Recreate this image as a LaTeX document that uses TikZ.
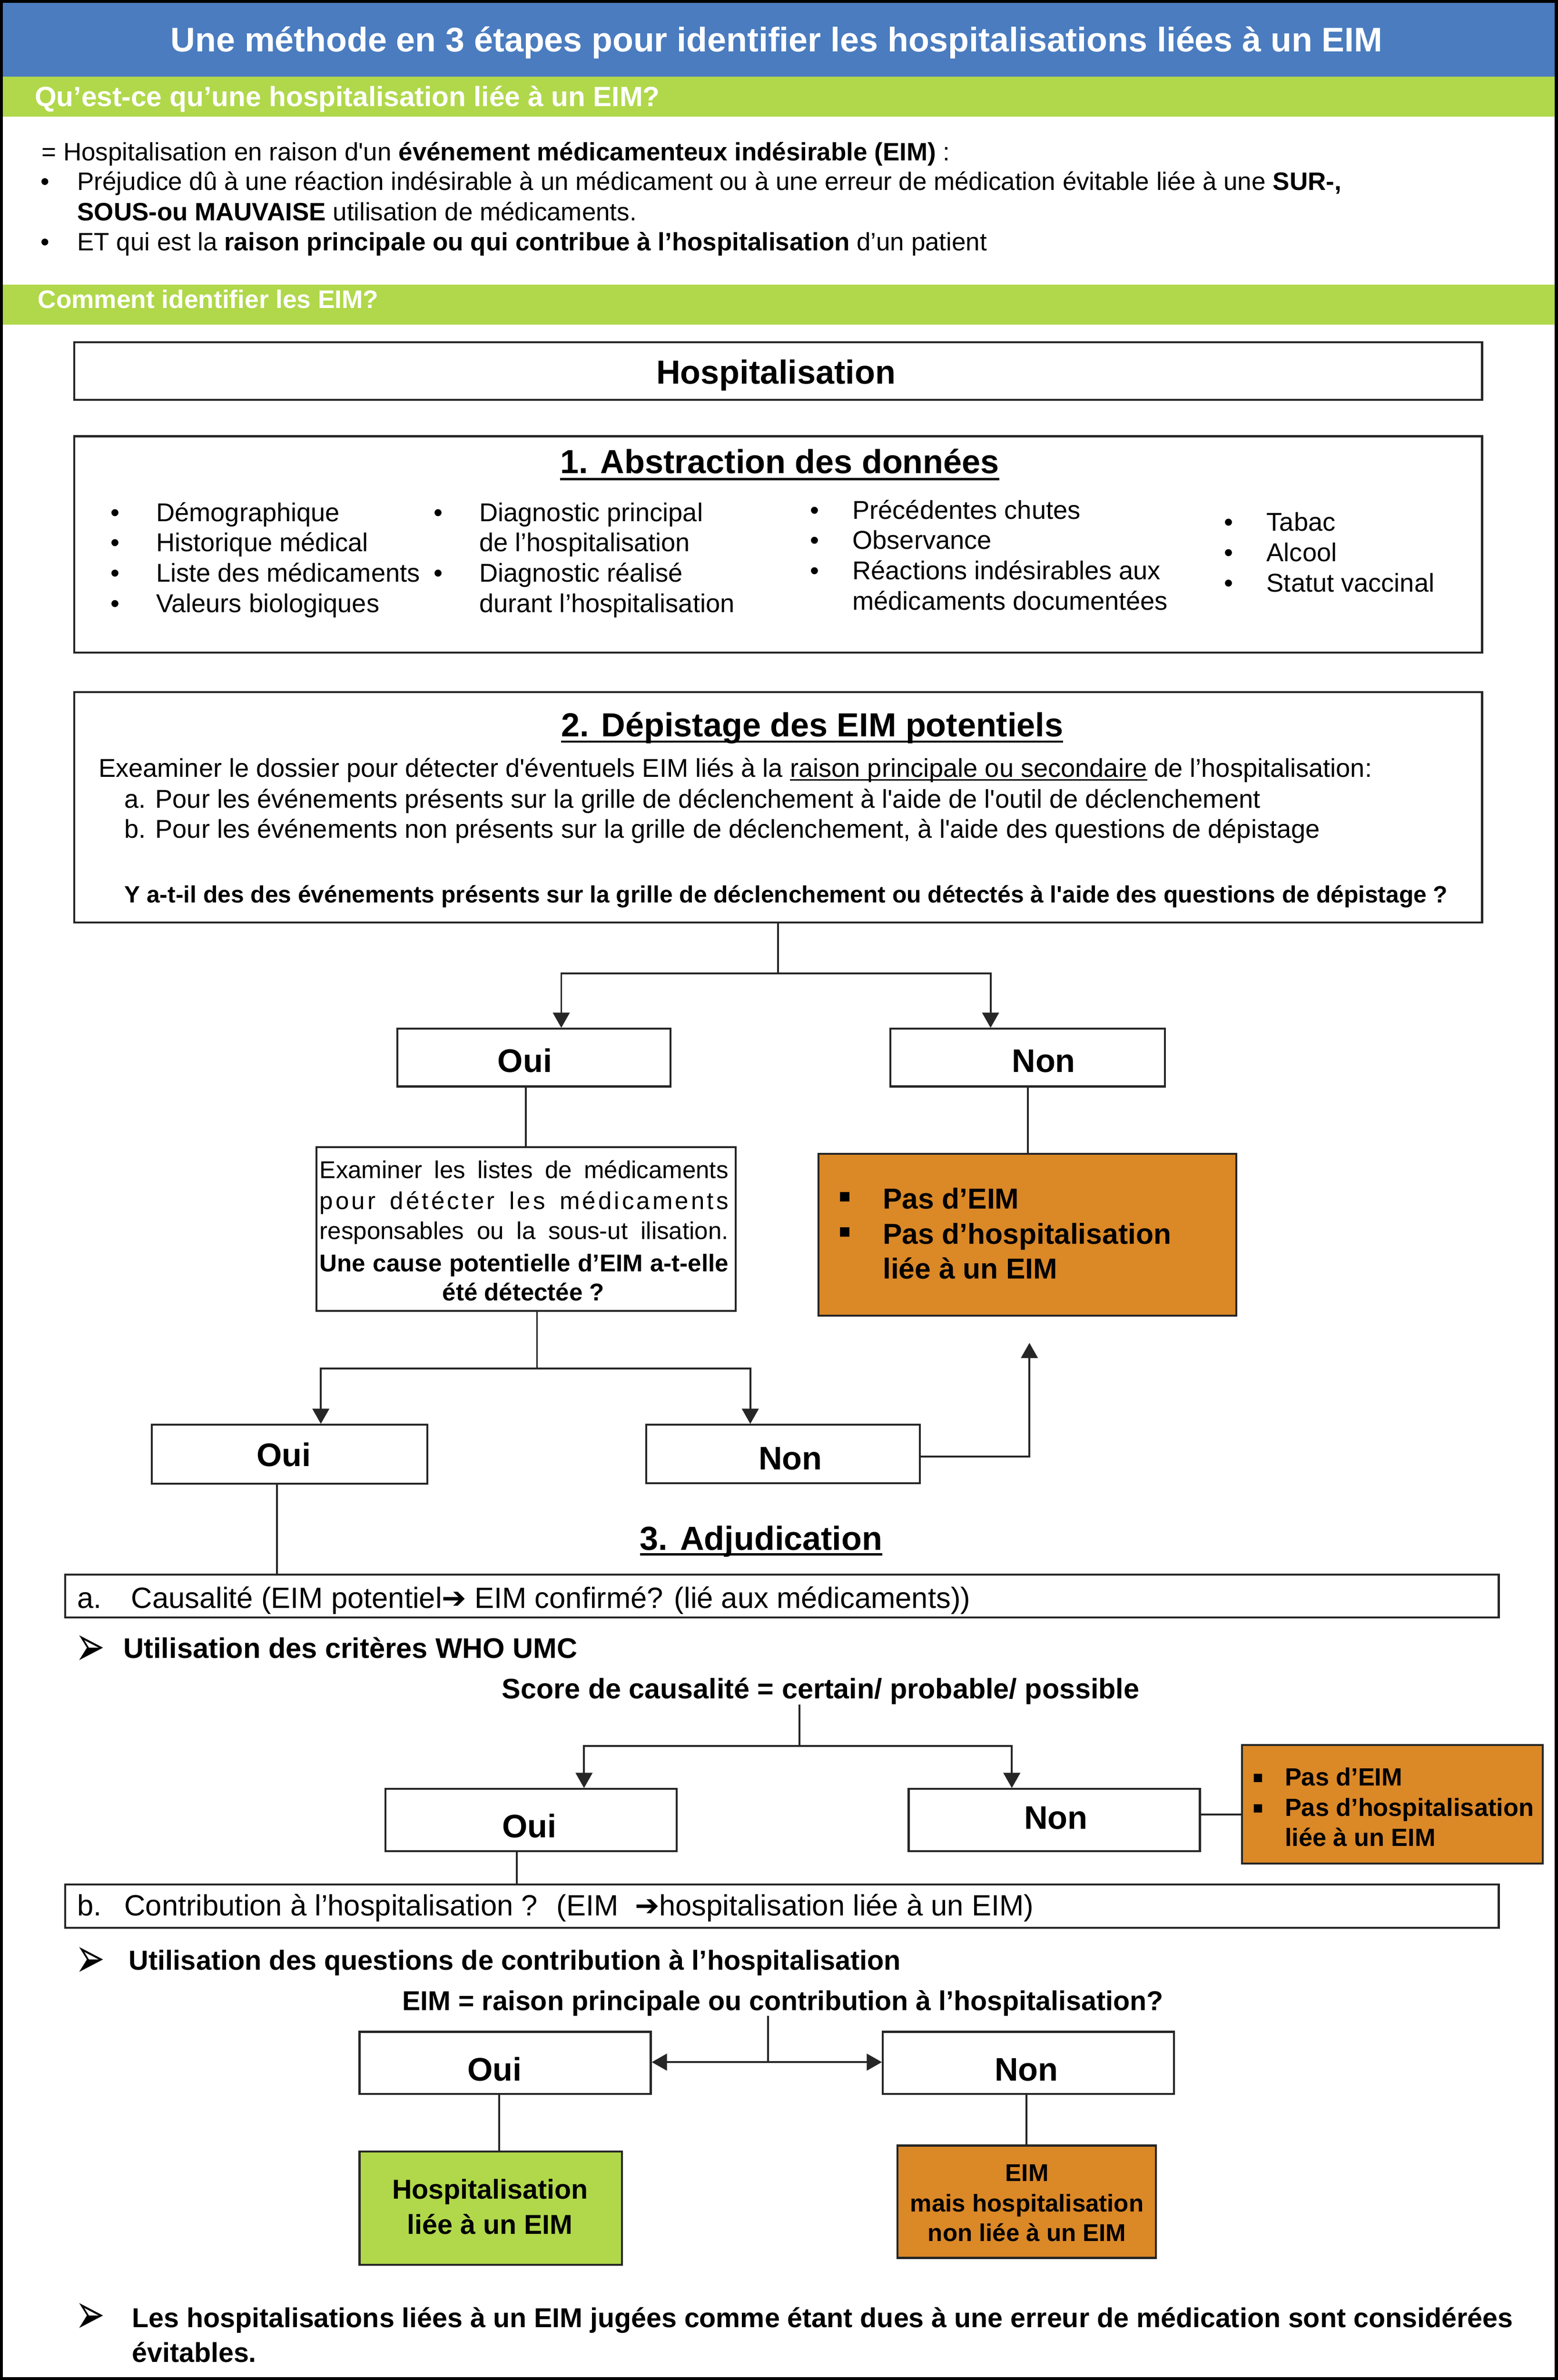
\documentclass[tikz,border=0pt]{standalone}
\usepackage{fontspec}
\usepackage{graphicx}
\setmainfont{Liberation Sans}
\newfontfamily\lsraw{Liberation Sans}
\newfontfamily\djv{DejaVu Sans}
\usetikzlibrary{arrows.meta}
\newcommand\sq{{\lsraw'}}
\newcommand\fsz[2]{\fontsize{#1}{#2}\selectfont}
\newlength\ulw
\newcommand\myul[1]{\settowidth{\ulw}{#1}\rlap{\rule[-2.4pt]{\ulw}{1.1pt}}#1}
\newcommand\fbody{\fsz{16.6}{20}}
\newcommand\fabs{\fsz{17}{20}}
\newcommand\fon{\fsz{21.5}{26}\bfseries}
\newcommand\arrowbul{\resizebox{19.5pt}{20pt}{\djv ➢}}
\definecolor{hdrblue}{RGB}{74,124,191}
\definecolor{hdrgreen}{RGB}{176,216,74}
\definecolor{boxorange}{RGB}{219,136,39}
\definecolor{lc}{RGB}{38,38,38}
\tikzset{
  bx/.style 2 args={draw=lc, line width=1.3pt, inner sep=0pt, minimum width=#1, minimum height=#2},
  txt/.style={inner sep=0pt, outer sep=0pt, anchor=base west},
  ctxt/.style={inner sep=0pt, outer sep=0pt, anchor=base},
  conn/.style={draw=lc, line width=1.2pt},
  arr/.style={conn, -{Triangle[width=11pt,length=10pt]}},
  uline/.style={draw=black, line width=1.4pt}
}
\begin{document}
\begin{tikzpicture}[x=1pt,y=-1pt]
\useasboundingbox (0,0) rectangle (1027,1568.5);
% header bars
\fill[hdrblue] (0,0) rectangle (1027,50.5);
\fill[hdrgreen] (0,50.5) rectangle (1027,77);
\fill[hdrgreen] (0,187.6) rectangle (1027,214);
\node[ctxt, font=\fsz{22.5}{27}\bfseries, text=white] (title) at (512,34) {Une méthode en 3 étapes pour identifier les hospitalisations liées à un EIM};
\node[txt, font=\fsz{18.4}{22}\bfseries, text=white] (h1) at (23,70.2) {Qu’est-ce qu’une hospitalisation liée à un EIM?};
\node[txt, font=\fbody] (d1) at (27.5,106) {= Hospitalisation en raison d\sq un \textbf{événement médicamenteux indésirable (EIM)} :};
\node[txt, font=\fbody] (bl1) at (26.7,125.3) {•};
\node[txt, font=\fbody] (d2) at (51,125.3) {Préjudice dû à une réaction indésirable à un médicament ou à une erreur de médication évitable liée à une \textbf{SUR-,}};
\node[txt, font=\fbody] (d3) at (51,145.3) {\textbf{SOUS-ou MAUVAISE} utilisation de médicaments.};
\node[txt, font=\fbody] (bl2) at (26.7,165.3) {•};
\node[txt, font=\fbody] (d4) at (51,165.3) {ET qui est la \textbf{raison principale ou qui contribue à l’hospitalisation} d’un patient};
\node[txt, font=\fsz{16.7}{20}\bfseries, text=white] (h2) at (25,203.1) {Comment identifier les EIM?};

% Hospitalisation
\node[bx={928pt}{38pt}] (hosp) at (513,244.5) {};
\node[ctxt, font=\fsz{22}{26}\bfseries] (hospt) at (511.5,253) {Hospitalisation};

% 1. Abstraction
\node[bx={928pt}{142.5pt}] (abs) at (513,358.75) {};
\node[ctxt, font=\fsz{22}{26}\bfseries] (t1) at (514,312) {1. Abstraction des données};
\draw[uline] ([yshift=-3.7pt]t1.base west) -- ([yshift=-3.7pt]t1.base east);
\foreach \t [count=\i] in {Démographique,Historique médical,Liste des médicaments,Valeurs biologiques} {
  \node[txt, font=\fabs] (ca\i) at (103,{343.5+20*(\i-1)}) {\t};
  \node[txt, font=\fabs] (cab\i) at (73,{343.5+20*(\i-1)}) {•};
}
\foreach \t [count=\i] in {Diagnostic principal,de l’hospitalisation,Diagnostic réalisé,durant l’hospitalisation} {
  \node[txt, font=\fabs] (cb\i) at (316,{343.5+20*(\i-1)}) {\t};
}
\node[txt, font=\fabs] (cbb1) at (286,343.5) {•};
\node[txt, font=\fabs] (cbb3) at (286,383.5) {•};
\foreach \t [count=\i] in {Précédentes chutes,Observance,Réactions indésirables aux,médicaments documentées} {
  \node[txt, font=\fabs] (cc\i) at (562,{342+20*(\i-1)}) {\t};
}
\foreach \i in {1,2,3} {
  \node[txt, font=\fabs] (ccb\i) at (534,{342+20*(\i-1)}) {•};
}
\foreach \t [count=\i] in {Tabac,Alcool,Statut vaccinal} {
  \node[txt, font=\fabs] (cd\i) at (835,{350+20*(\i-1)}) {\t};
  \node[txt, font=\fabs] (cdb\i) at (807,{350+20*(\i-1)}) {•};
}

% 2. Depistage
\node[bx={928pt}{152pt}] (dep) at (513,532) {};
\node[txt, font=\fsz{22}{26}\bfseries] (t2) at (370,485.5) {2. Dépistage des EIM potentiels};
\draw[uline] ([yshift=-3.2pt]t2.base west) -- ([yshift=-3.2pt]t2.base east);
\node[txt, font=\fabs] (e1) at (65,512.2) {Exeaminer le dossier pour détecter d\sq éventuels EIM liés à la \myul{raison principale ou secondaire} de l’hospitalisation:};
\node[txt, font=\fabs] (e2) at (82,532.5) {a. Pour les événements présents sur la grille de déclenchement à l\sq aide de l\sq outil de déclenchement};
\node[txt, font=\fabs] (e3) at (82,552.2) {b. Pour les événements non présents sur la grille de déclenchement, à l\sq aide des questions de dépistage};
\node[txt, font=\fsz{15.6}{19}\bfseries] (e4) at (82,594.8) {Y a-t-il des des événements présents sur la grille de déclenchement ou détectés à l\sq aide des questions de dépistage ?};

% first decision
\node[bx={180pt}{38pt}] (oui1) at (352,697) {};
\node[bx={181pt}{38pt}] (non1) at (677.5,697) {};
\node[ctxt, font=\fon] (oui1t) at (346,706.7) {Oui};
\node[ctxt, font=\fon] (non1t) at (688,706.7) {Non};
\coordinate (j1) at (513,641.5);
\draw[conn] (dep.south) -- (j1);
\draw[arr] (j1) -| ([xshift=18pt]oui1.north);
\draw[arr] (j1) -| ([xshift=-24.5pt]non1.north);

\node[bx={276.5pt}{108pt}] (exam) at (346.75,810) {};
\node[txt, font=\fsz{16}{19}] (x1) at (210.8,776.5) {\makebox[269.4pt][s]{Examiner les listes de médicaments}};
\node[txt, font=\fsz{16}{19}\addfontfeature{LetterSpace=10}] (x2) at (210.8,796.8) {\makebox[269.4pt][s]{pour détécter les médicaments}};
\node[txt, font=\fsz{16}{19}] (x3) at (210.8,816.6) {\makebox[269.4pt][s]{responsables ou la sous-ut ilisation.}};
\node[txt, font=\fsz{16}{19}\bfseries] (x4) at (210.8,837.9) {\makebox[269.4pt][s]{Une cause potentielle d’EIM a-t-elle}};
\node[ctxt, font=\fsz{16}{19}\bfseries] (x5) at (345,857.1) {été détectée ?};
\draw[conn] (oui1.south -| exam.north) -- (exam.north);

\node[bx={275.5pt}{106.5pt}, fill=boxorange] (or1) at (677.25,813.75) {};
\node[txt, font=\fsz{25}{28}\bfseries] (or1b1) at (552.5,796.7) {▪};
\node[txt, font=\fsz{25}{28}\bfseries] (or1b2) at (552.5,820) {▪};
\node[txt, font=\fsz{19}{23}\bfseries] (or1a) at (582,796.7) {Pas d’EIM};
\node[txt, font=\fsz{19}{23}\bfseries] (or1b) at (582,820) {Pas d’hospitalisation};
\node[txt, font=\fsz{19}{23}\bfseries] (or1c) at (582,842.7) {liée à un EIM};
\draw[conn] (non1.south) -- (non1.south |- or1.north);

% second decision
\coordinate (j2) at (354,902);
\draw[conn] (exam.south -| j2) -- (j2);
\node[bx={181.6pt}{38.7pt}] (oui2) at (190.8,958.35) {};
\node[bx={180.5pt}{38.5pt}] (non2) at (516.25,958.25) {};
\node[ctxt, font=\fon] (oui2t) at (187,966.4) {Oui};
\node[ctxt, font=\fon] (non2t) at (521,968.6) {Non};
\draw[arr] (j2) -| ([xshift=20.7pt]oui2.north);
\draw[arr] (j2) -| ([xshift=-21.65pt]non2.north);
\coordinate (uptip) at (678.6,885);
\draw[arr] ([yshift=-1.7pt]non2.east) -| (uptip);

% 3. Adjudication
\node[ctxt, font=\fsz{22}{26}\bfseries] (t3) at (501.75,1021.4) {3. Adjudication};
\draw[uline] ([yshift=-3pt]t3.base west) -- ([yshift=-3pt]t3.base east);
\node[bx={945pt}{28.4pt}] (caus) at (515.5,1051.8) {};
\draw[conn] ([xshift=-8.1pt]oui2.south) -- ([xshift=-8.1pt]oui2.south |- caus.north);
\node[txt, font=\fsz{19.3}{23}] (causa) at (51,1059.7) {a.};
\node[txt, font=\fsz{19.3}{23}] (causb) at (86.5,1059.7) {Causalité (EIM potentiel{\djv ➔} EIM confirmé? (lié aux médicaments))};
\node[txt] (ar1) at (49.6,1097.7) {\arrowbul};
\node[txt, font=\fsz{18.7}{22}\bfseries] (who) at (81.4,1092.7) {Utilisation des critères WHO UMC};
\node[ctxt, font=\fsz{18.6}{22}\bfseries] (score) at (541,1119.5) {Score de causalité = certain/ probable/ possible};

\coordinate (j3) at (527,1150.6);
\draw[conn] (score.south -| j3) -- (j3);
\node[bx={192pt}{41pt}] (oui3) at (350,1199.5) {};
\node[bx={192pt}{41pt}] (non3) at (695,1199.5) {};
\node[ctxt, font=\fon] (oui3t) at (349,1211) {Oui};
\node[ctxt, font=\fon] (non3t) at (696,1205.4) {Non};
\draw[arr] (j3) -| ([xshift=35pt]oui3.north);
\draw[arr] (j3) -| ([xshift=-28pt]non3.north);

\node[bx={198.3pt}{78pt}, fill=boxorange] (or2) at (917.85,1189) {};
\draw[conn] ([yshift=3.8pt]non3.east) -- ([yshift=3.8pt]non3.east -| or2.west);
\node[txt, font=\fsz{22}{26}\bfseries] (or2b1) at (825.5,1178.7) {▪};
\node[txt, font=\fsz{22}{26}\bfseries] (or2b2) at (825.5,1198.9) {▪};
\node[txt, font=\fsz{16.4}{20}\bfseries] (or2a) at (847,1176.7) {Pas d’EIM};
\node[txt, font=\fsz{16.4}{20}\bfseries] (or2b) at (847,1196.9) {Pas d’hospitalisation};
\node[txt, font=\fsz{16.4}{20}\bfseries] (or2c) at (847,1216.6) {liée à un EIM};

\node[bx={945pt}{28.6pt}] (bbox) at (515.5,1256.3) {};
\draw[conn] ([xshift=-9.4pt]oui3.south) -- ([xshift=-9.4pt]oui3.south |- bbox.north);
\node[txt, font=\fsz{19.3}{23}] (bba) at (51,1262.5) {b.};
\node[txt, font=\fsz{19.3}{23}] (bbb) at (82,1262.5) {Contribution à l’hospitalisation ?~ (EIM~ {\djv ➔}hospitalisation liée à un EIM)};
\node[txt] (ar2) at (49.6,1303.2) {\arrowbul};
\node[txt, font=\fsz{18.1}{22}\bfseries] (qc) at (85,1298.2) {Utilisation des questions de contribution à l’hospitalisation};
\node[ctxt, font=\fsz{18}{22}\bfseries] (eimq) at (516,1324.9) {EIM = raison principale ou contribution à l’hospitalisation?};

\node[bx={192pt}{41pt}] (oui4) at (333,1359.5) {};
\node[bx={192pt}{41pt}] (non4) at (678,1359.5) {};
\node[ctxt, font=\fon] (oui4t) at (326,1371.4) {Oui};
\node[ctxt, font=\fon] (non4t) at (676.6,1371.4) {Non};
\coordinate (j4) at (506.3,1359);
\draw[conn] (eimq.south -| j4) -- (j4);
\draw[arr] (j4) -- (j4 -| oui4.east);
\draw[arr] (j4) -- (j4 -| non4.west);

\node[bx={173pt}{74.6pt}, fill=hdrgreen] (green) at (323.5,1455.3) {};
\node[ctxt, font=\fsz{18}{22}\bfseries] (gr1) at (323,1449.2) {Hospitalisation};
\node[ctxt, font=\fsz{18}{22}\bfseries] (gr2) at (323,1472.3) {liée à un EIM};
\draw[conn] ([xshift=-4pt]oui4.south) -- ([xshift=-4pt]oui4.south |- green.north);

\node[bx={170.5pt}{74pt}, fill=boxorange] (or3) at (676.75,1451) {};
\node[ctxt, font=\fsz{16}{20}\bfseries] (or3a) at (677,1437.6) {EIM};
\node[ctxt, font=\fsz{16}{20}\bfseries] (or3b) at (677,1457.6) {mais hospitalisation};
\node[ctxt, font=\fsz{16}{20}\bfseries] (or3c) at (677,1477) {non liée à un EIM};
\draw[conn] (non4.south -| or3.north) -- (or3.north);

\node[txt] (ar3) at (49.6,1537.8) {\arrowbul};
\node[txt, font=\fsz{18}{22}\bfseries] (fin1) at (87,1533.7) {Les hospitalisations liées à un EIM jugées comme étant dues à une erreur de médication sont considérées};
\node[txt, font=\fsz{18}{22}\bfseries] (fin2) at (87,1556.8) {évitables.};

% frame
\draw[black, line width=2pt] (1,1) rectangle (1026,1567.5);
\end{tikzpicture}
\end{document}
